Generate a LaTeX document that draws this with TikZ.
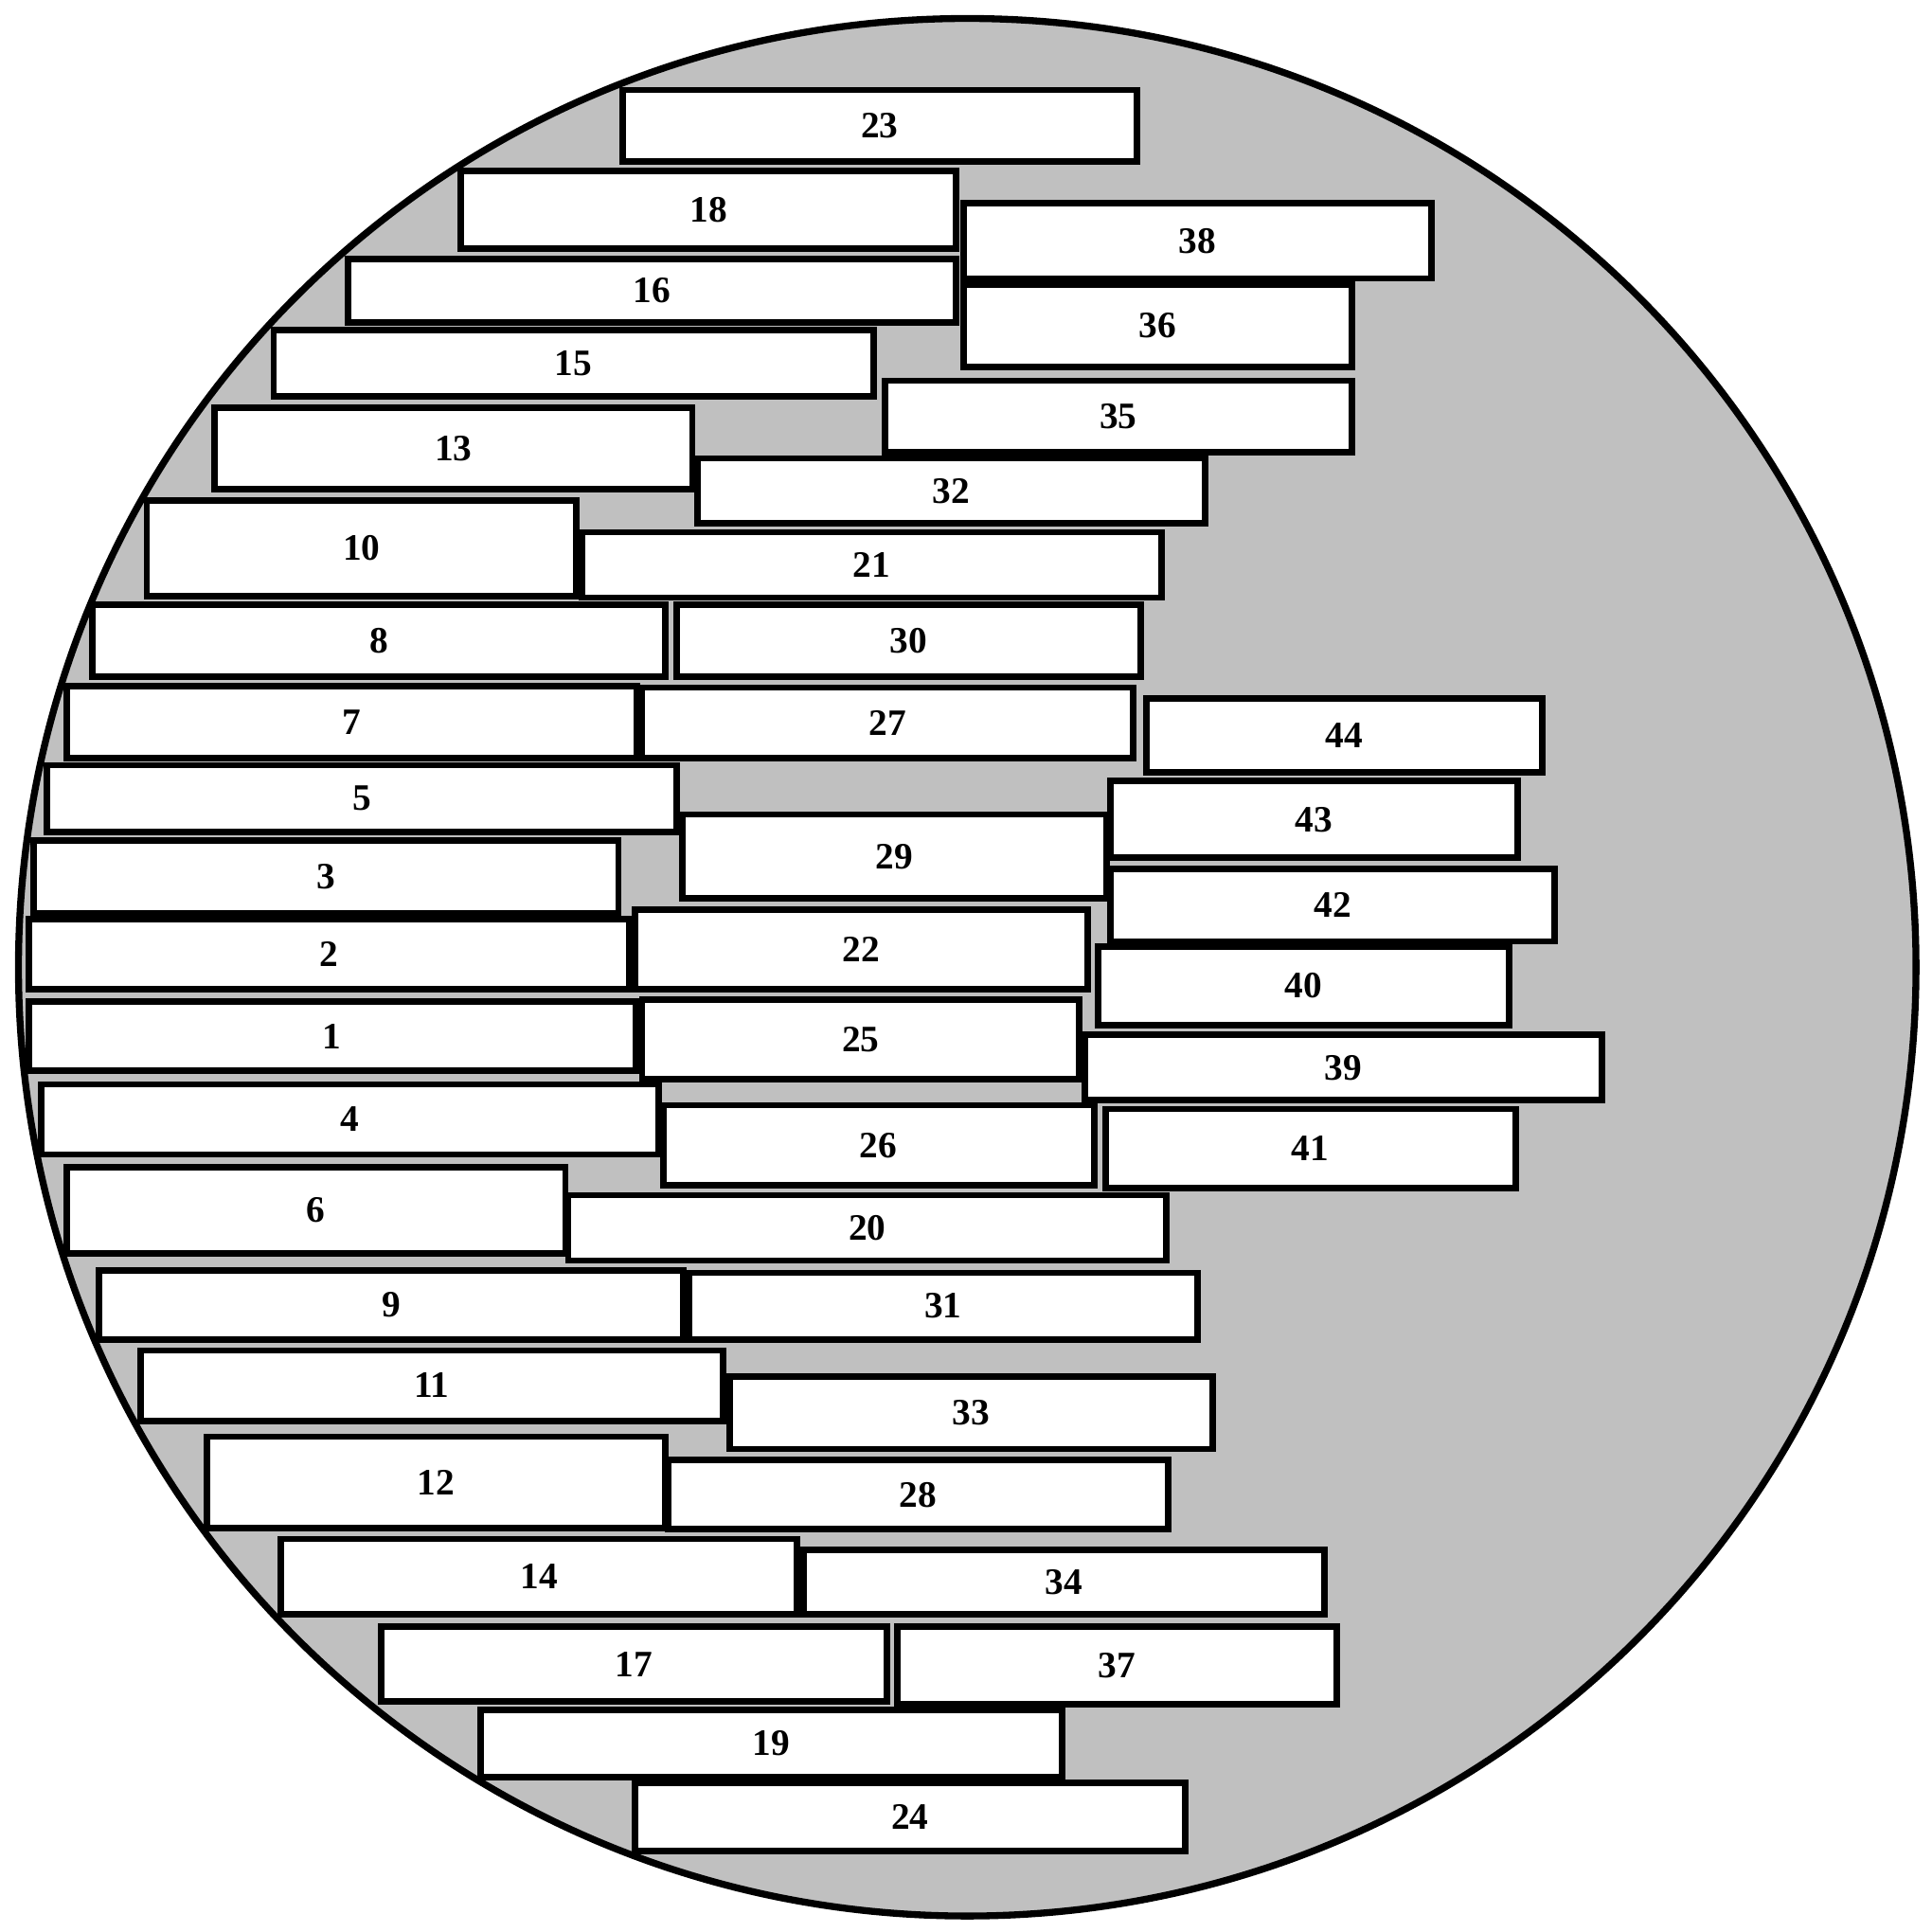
\documentclass[tikz,border=0pt]{standalone}
\usepackage{fontspec}
\setmainfont{Liberation Serif}
\usetikzlibrary{positioning}
\definecolor{wafergray}{HTML}{C0C0C0}

\begin{document}
\begin{tikzpicture}[font=\bfseries\fontsize{8.6}{10}\selectfont,
    die/.style={draw,line width=1.5pt,fill=white,inner sep=0pt,outer sep=0pt}]
    \useasboundingbox (0,0) rectangle (15.68,-15.68);
    \node (wafer) [circle,draw,line width=1.6pt,fill=wafergray,minimum size=15.4cm,inner sep=0pt] at (7.85,-7.85) {};
    % dies: label / left / top / right / bottom (in 1/100 cm)
    \foreach \n/\xa/\ya/\xb/\yb in {
        23/505/73/923/131, 18/374/139/776/202, 38/782/165/1162/226,
        16/282/210/776/262, 36/782/231/1097/298, 15/222/268/709/322,
        35/718/309/1097/367, 13/174/331/562/397, 32/566/372/978/425,
        10/119/406/468/484, 21/472/432/943/485, 8/75/491/540/549,
        30/549/491/926/549, 7/54/557/517/615, 27/521/558/920/615,
        44/930/567/1252/627, 5/38/621/549/675, 29/554/661/898/729,
        43/901/634/1232/696, 3/27/682/502/741, 42/901/705/1262/764,
        2/23/746/511/803, 22/515/738/883/803, 40/891/768/1225/832,
        1/23/813/516/869, 25/521/811/876/876, 39/880/840/1300/893,
        4/33/880/535/937, 26/538/897/888/962, 41/897/900/1230/964,
        6/54/947/459/1017, 20/461/970/947/1023, 9/80/1031/555/1087,
        31/559/1033/972/1087, 11/114/1096/587/1153, 33/592/1117/984/1176,
        12/168/1166/540/1240, 28/542/1185/948/1241, 14/228/1249/647/1310,
        34/652/1258/1075/1310, 17/309/1320/720/1381, 37/728/1320/1085/1383,
        19/390/1388/862/1442, 24/515/1447/962/1502}
      \node (d\n) [die,minimum width={(\xb-\xa)*0.01cm},minimum height={(\yb-\ya)*0.01cm}]
        at ({(\xa+\xb)/200},{-(\ya+\yb)/200}) {\n};
  \end{tikzpicture}
\end{document}
